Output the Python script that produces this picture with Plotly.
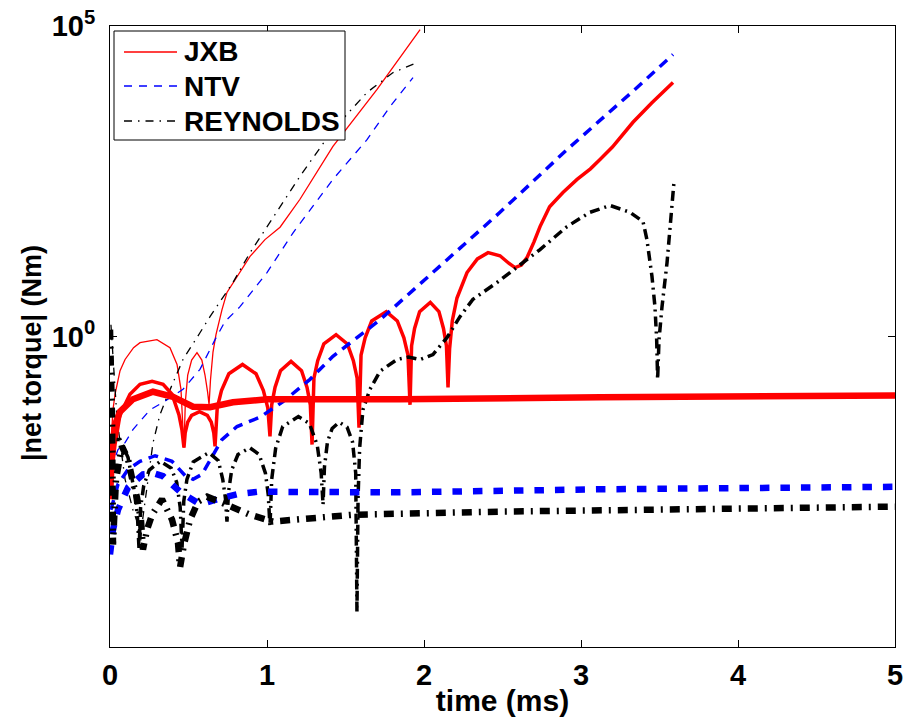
import numpy as np
import plotly.graph_objects as go

# ---- data: time (ms) and log10(|net torque| in Nm) ----
# thin lines (first case)
jxb_thin_t = [0.006, 0.019, 0.032, 0.064, 0.096, 0.150, 0.191, 0.299, 0.382, 0.427, 0.452, 0.471,
              0.480, 0.495, 0.520, 0.554, 0.585, 0.605, 0.622, 0.631, 0.640, 0.656, 0.675, 0.713,
              0.745, 0.809, 0.892, 0.987, 1.083, 1.210, 1.420, 1.701, 1.975]
jxb_thin_e = [-1.74, -1.18, -0.93, -0.55, -0.37, -0.18, -0.10, -0.05, -0.18, -0.45, -0.85, -1.79,
              -1.05, -0.62, -0.38, -0.26, -0.38, -0.62, -0.90, -1.10, -0.70, -0.25, 0.03, 0.43,
              0.71, 0.97, 1.29, 1.56, 1.76, 2.21, 3.06, 3.98, 4.94]

ntv_thin_t = [0.006, 0.051, 0.096, 0.146, 0.255, 0.338, 0.465, 0.573, 0.669, 0.732, 0.828, 1.000,
              1.166, 1.420, 1.637, 1.783, 1.930]
ntv_thin_e = [-2.14, -1.82, -1.71, -1.50, -1.18, -1.06, -0.85, -0.53, -0.05, 0.24, 0.48, 1.03,
              1.67, 2.53, 3.17, 3.70, 4.17]

rey_thin_t = [0.006, 0.019, 0.045, 0.096, 0.146, 0.175, 0.191, 0.205, 0.217, 0.236, 0.274, 0.318,
              0.363, 0.465, 0.573, 0.637, 0.783, 0.892, 0.975, 1.210, 1.420, 1.637, 1.803, 1.955]
rey_thin_e = [0.19, -0.37, -1.34, -2.30, -2.79, -3.00, -3.43, -3.00, -2.79, -2.42, -1.71, -1.26,
              -0.97, -0.37, 0.06, 0.32, 0.87, 1.35, 1.67, 2.58, 3.33, 3.93, 4.25, 4.41]

# medium lines (second case)
jxb_med_t = [0.006, 0.032, 0.064, 0.127, 0.191, 0.268, 0.338, 0.395, 0.439, 0.458, 0.471,
             0.479, 0.495, 0.520, 0.570, 0.620, 0.645, 0.661, 0.669,
             0.683, 0.710, 0.757, 0.844, 0.930, 0.977, 1.005, 1.019,
             1.030, 1.051, 1.086, 1.153, 1.220, 1.255, 1.276, 1.287,
             1.299, 1.323, 1.362, 1.440, 1.512, 1.550, 1.574, 1.586,
             1.599, 1.625, 1.667, 1.760, 1.830, 1.872, 1.898, 1.911,
             1.921, 1.940, 1.972, 2.040, 2.095, 2.124, 2.143, 2.153,
             2.163, 2.180, 2.210, 2.274, 2.340, 2.408, 2.484, 2.540, 2.580, 2.620, 2.656, 2.700,
             2.739, 2.800, 2.885, 2.975, 3.060, 3.121, 3.200, 3.331, 3.450, 3.586]
jxb_med_e = [-2.30, -1.74, -1.26, -0.93, -0.77, -0.72, -0.77, -0.93, -1.26, -1.50, -1.79,
             -1.55, -1.38, -1.27, -1.21, -1.27, -1.38, -1.55, -1.77,
             -1.15, -0.87, -0.60, -0.45, -0.60, -0.87, -1.15, -1.61,
             -1.10, -0.82, -0.55, -0.40, -0.55, -0.82, -1.10, -1.74,
             -0.67, -0.39, -0.12, 0.03, -0.12, -0.39, -0.67, -1.47,
             -0.30, -0.02, 0.25, 0.40, 0.25, -0.02, -0.30, -1.10,
             -0.15, 0.13, 0.40, 0.55, 0.40, 0.13, -0.15, -0.82,
             -0.20, 0.25, 0.62, 1.03, 1.25, 1.35, 1.30, 1.18, 1.11, 1.15, 1.27, 1.52,
             1.77, 2.09, 2.32, 2.53, 2.70, 2.85, 3.05, 3.45, 3.76, 4.09]

ntv_med_t = [0.006, 0.051, 0.115, 0.191, 0.287, 0.395, 0.478, 0.529, 0.586, 0.650, 0.713, 0.809,
             0.955, 1.102, 1.274, 1.420, 1.573, 1.720, 1.866, 2.057, 2.484, 2.911, 3.331, 3.586]
ntv_med_e = [-2.79, -2.38, -2.14, -2.01, -1.92, -2.01, -2.24, -2.30, -2.22, -1.95, -1.66, -1.45,
             -1.30, -1.05, -0.69, -0.32, -0.02, 0.27, 0.60, 1.03, 2.00, 3.01, 3.95, 4.54]

rey_med_t = [0.006, 0.064, 0.115, 0.153, 0.175, 0.185,
             0.195, 0.215, 0.250, 0.320, 0.390, 0.425, 0.447, 0.459,
             0.470, 0.490, 0.530, 0.630, 0.690, 0.718, 0.735, 0.745,
             0.755, 0.775, 0.815, 0.890, 0.950, 0.990, 1.008, 1.019,
             1.030, 1.055, 1.100, 1.200, 1.270, 1.320, 1.345, 1.357,
             1.366, 1.385, 1.415, 1.460, 1.510, 1.545, 1.565, 1.573,
             1.580, 1.590, 1.611, 1.656, 1.720, 1.828, 1.900, 1.975, 2.057, 2.146, 2.229, 2.312,
             2.465, 2.592, 2.739, 2.911, 3.057, 3.185, 3.312, 3.395, 3.420, 3.452, 3.471, 3.482,
             3.488, 3.497, 3.516, 3.548, 3.567, 3.592]
rey_med_e = [-1.66, -1.66, -1.95, -2.46, -2.90, -3.43,
             -2.75, -2.40, -2.15, -2.01, -2.12, -2.35, -2.75, -3.40,
             -2.65, -2.30, -2.02, -1.87, -2.00, -2.30, -2.60, -2.98,
             -2.50, -2.15, -1.90, -1.79, -1.90, -2.20, -2.55, -3.06,
             -2.30, -1.80, -1.45, -1.29, -1.40, -1.75, -2.20, -2.71,
             -2.10, -1.70, -1.48, -1.38, -1.46, -1.70, -2.20, -4.44,
             -2.60, -1.80, -1.18, -0.85, -0.56, -0.37, -0.33, -0.37, -0.29, -0.02, 0.32, 0.60,
             0.87, 1.11, 1.40, 1.77, 2.00, 2.11, 2.00, 1.85, 1.56, 0.97, 0.48, -0.05,
             -0.69, -0.05, 0.48, 1.19, 1.72, 2.48]

# thick lines (third case)
jxb_thick_t = [0.0, 0.013, 0.032, 0.064, 0.146, 0.274, 0.401, 0.529, 0.637, 0.783, 1.000, 1.847,
               3.121, 5.0]
jxb_thick_e = [-2.62, -1.82, -1.42, -1.21, -1.01, -0.89, -0.97, -1.13, -1.14, -1.06, -1.01, -1.01,
               -0.98, -0.95]

ntv_thick_t = [0.0, 0.019, 0.051, 0.115, 0.210, 0.287, 0.338, 0.446, 0.554, 0.618, 0.682, 0.809,
               0.943, 1.210, 1.847, 3.121, 5.0]
ntv_thick_e = [-3.51, -3.11, -2.79, -2.43, -2.22, -2.21, -2.25, -2.50, -2.67, -2.67, -2.62, -2.54,
               -2.50, -2.50, -2.51, -2.46, -2.42]

rey_thick_t = [0.0, 0.013, 0.019, 0.038, 0.076, 0.115, 0.146, 0.172, 0.197, 0.210, 0.236, 0.268,
               0.331, 0.395, 0.433, 0.446, 0.471, 0.510, 0.561, 0.618, 0.745, 0.892, 1.038, 1.210,
               1.548, 2.484, 3.758, 5.0]
rey_thick_e = [0.11, -1.34, -3.35, -2.30, -1.77, -1.98, -2.35, -2.59, -2.95, -3.43, -3.11, -2.87,
               -2.62, -2.95, -3.32, -3.72, -3.35, -2.95, -2.66, -2.58, -2.71, -2.87, -2.98, -2.95,
               -2.87, -2.82, -2.79, -2.74]

legend_names = ["JXB", "NTV", "REYNOLDS"]
x_ticks = [0, 1, 2, 3, 4, 5]
y_tickvals = [1, 1e5]
y_ticktext = ["10<sup>0</sup>", "10<sup>5</sup>"]
x_title = "time (ms)"
y_title = "|net torque| (Nm)"

RED, BLUE, BLACK = "#ff0000", "#0000ff", "#000000"
THIN, MED, THICK = 1.3, 3.5, 6.5
DASH_THIN = ["solid", "8px,7px", "8px,6px,1.5px,6px"]
DASH_MED = ["solid", "10px,7px", "10px,5px,2px,5px"]
DASH_THICK = ["solid", "9.5px,11px", "10px,7px,2px,7px"]
COLORS = [RED, BLUE, BLACK]

groups = [
    ([(jxb_thin_t, jxb_thin_e), (ntv_thin_t, ntv_thin_e), (rey_thin_t, rey_thin_e)], THIN, DASH_THIN),
    ([(jxb_med_t, jxb_med_e), (ntv_med_t, ntv_med_e), (rey_med_t, rey_med_e)], MED, DASH_MED),
    ([(jxb_thick_t, jxb_thick_e), (ntv_thick_t, ntv_thick_e), (rey_thick_t, rey_thick_e)], THICK, DASH_THICK),
]

fig = go.Figure()
for gi, (pairs, w, dashes) in enumerate(groups):
    for si, (t, e) in enumerate(pairs):
        fig.add_trace(go.Scatter(
            x=t, y=np.power(10.0, np.array(e)), mode="lines",
            line=dict(color=COLORS[si], width=w, dash=dashes[si]),
            name=legend_names[si], showlegend=False, legendgroup=legend_names[si],
        ))

FONT = "Liberation Sans, Arial, sans-serif"

# legend drawn as a boxed key in the upper-left corner (paper coordinates)
PX0, PW, PY0, PH = 110, 785, 647, 621  # plot area in pixels (left, width, bottom, height)
def px(x):
    return (x - PX0) / PW
def py(y):
    return (PY0 - y) / PH

shapes = [dict(type="rect", xref="paper", yref="paper", x0=px(114), x1=px(345), y0=py(140), y1=py(31),
               line=dict(color="black", width=1), fillcolor="white", layer="above")]
annotations = []
for i, (name, yy) in enumerate(zip(legend_names, [52, 86, 121])):
    shapes.append(dict(type="line", xref="paper", yref="paper", x0=px(124), x1=px(177),
                       y0=py(yy), y1=py(yy), layer="above",
                       line=dict(color=COLORS[i], width=THIN, dash=DASH_THIN[i])))
    annotations.append(dict(xref="paper", yref="paper", x=px(182), y=py(yy), xanchor="left", yanchor="middle",
                            text="<b>%s</b>" % name, showarrow=False,
                            font=dict(family=FONT, size=28, color="black")))
annotations.append(dict(xref="paper", yref="paper", x=px(32), y=py(353), xanchor="center", yanchor="middle",
                        text="<b>%s</b>" % y_title, textangle=-90, showarrow=False,
                        font=dict(family=FONT, size=27, color="black")))

fig.update_layout(
    width=906, height=723,
    margin=dict(l=110, r=11, t=26, b=76),
    paper_bgcolor="white", plot_bgcolor="white",
    font=dict(family=FONT, size=28, color="black"),
    showlegend=False,
    shapes=shapes, annotations=annotations,
    xaxis=dict(
        range=[0, 5], tickvals=x_ticks, ticktext=["<b>%d</b>" % v for v in x_ticks],
        showgrid=False, zeroline=False, showline=True, linecolor="black", linewidth=1,
        mirror="ticks", ticks="inside", ticklen=7, tickcolor="black", automargin=False,
        tickfont=dict(family=FONT, size=29), ticklabelstandoff=2,
        title=dict(text="<b>%s</b>" % x_title, font=dict(family=FONT, size=30), standoff=0),
    ),
    yaxis=dict(
        type="log", range=[-5, 5], tickvals=y_tickvals, ticktext=["<b>%s</b>" % s for s in y_ticktext],
        showgrid=False, zeroline=False, showline=True, linecolor="black", linewidth=1,
        mirror="ticks", ticks="inside", ticklen=7, tickcolor="black", automargin=False,
        tickfont=dict(family=FONT, size=29), ticklabelstandoff=8,
    ),
)

fig.write_html("out.html", config={"displayModeBar": False},
               post_script="document.body.style.margin='0';")
